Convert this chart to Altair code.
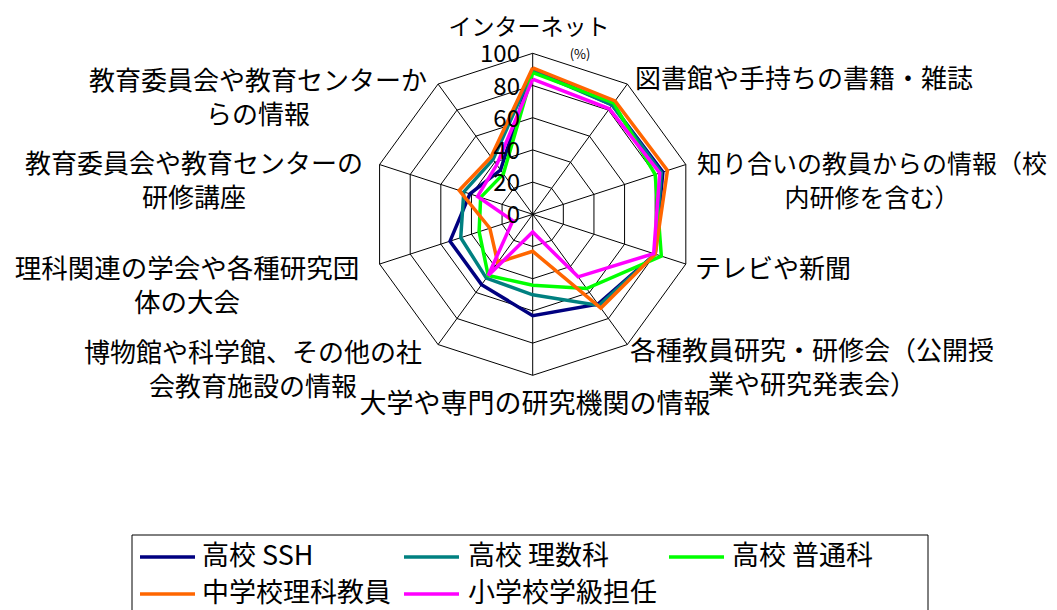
import altair as alt
import pandas as pd
import numpy as np

# ---------------- data ----------------
categories = [
    "インターネット",
    "図書館や手持ちの書籍・雑誌",
    "知り合いの教員からの情報（校内研修を含む）",
    "テレビや新聞",
    "各種教員研究・研修会（公開授業や研究発表会）",
    "大学や専門の研究機関の情報",
    "博物館や科学館、その他の社会教育施設の情報",
    "理科関連の学会や各種研究団体の大会",
    "教育委員会や教育センターの研修講座",
    "教育委員会や教育センターからの情報",
]
# wrapped label text as shown in the picture
label_texts = [
    "インターネット",
    "図書館や手持ちの書籍・雑誌",
    "知り合いの教員からの情報（校\n内研修を含む）",
    "テレビや新聞",
    "各種教員研究・研修会（公開授\n業や研究発表会）",
    "大学や専門の研究機関の情報",
    "博物館や科学館、その他の社\n会教育施設の情報",
    "理科関連の学会や各種研究団\n体の大会",
    "教育委員会や教育センターの\n研修講座",
    "教育委員会や教育センターか\nらの情報",
]
series = ["高校 SSH", "高校 理数科", "高校 普通科", "中学校理科教員", "小学校学級担任"]
colors = ["#000080", "#008080", "#00FF00", "#FF6600", "#FF00FF"]

ssh      = [90, 84, 85, 80, 69, 63, 54, 54, 41, 34]
risuka   = [89, 84, 84, 80, 70, 50, 49, 47, 45, 42]
futsuka  = [88, 85.5, 80, 84, 57, 44, 47, 35, 34, 31]
chugaku  = [91, 87, 88, 80, 72, 23, 37, 28, 48, 44]
shogaku  = [84, 81, 83, 79, 48, 11, 47, 13, 36, 38]
values = [ssh, risuka, futsuka, chugaku, shogaku]

ticks = [0, 20, 40, 60, 80, 100]

# ---------------- layout ----------------
W, H = 1041, 602
CX, CY = 524.7, 206.3   # centre of radar in chart pixels
K = 1.61                # pixels per percent
FONT = "Noto Sans CJK JP"
N = len(categories)

xs = alt.Scale(domain=[-CX / K, (W - CX) / K], nice=False, zero=False)
ys = alt.Scale(domain=[(CY - H) / K, CY / K], nice=False, zero=False)


def polar(v, i):
    a = np.deg2rad(360.0 / N * i)
    return v * np.sin(a), v * np.cos(a)


# series polygons
rows = []
for s, vals in zip(series, values):
    for j in range(N + 1):
        i = j % N
        x, y = polar(vals[i], i)
        rows.append(dict(series=s, order=j, x=x, y=y))
df = pd.DataFrame(rows)

# grid rings
grows = []
for t in ticks[1:]:
    for j in range(N + 1):
        x, y = polar(t, j % N)
        grows.append(dict(ring=t, order=j, x=x, y=y))
gdf = pd.DataFrame(grows)

# spokes
srows = []
for i in range(N):
    x, y = polar(100, i)
    srows.append(dict(x=0.0, y=0.0, x2=x, y2=y))
sdf = pd.DataFrame(srows)

X = lambda f: alt.X(f, scale=xs, axis=None)
Y = lambda f: alt.Y(f, scale=ys, axis=None)

rings = alt.Chart(gdf).mark_line(color="black", strokeWidth=1).encode(
    x=X("x:Q"), y=Y("y:Q"), detail="ring:N", order="order:Q"
)
spokes = alt.Chart(sdf).mark_rule(color="black", strokeWidth=1).encode(
    x=X("x:Q"), y=Y("y:Q"), x2="x2:Q", y2="y2:Q"
)
lines = alt.Chart(df).mark_line(strokeWidth=3.5).encode(
    x=X("x:Q"), y=Y("y:Q"),
    color=alt.Color("series:N", scale=alt.Scale(domain=series, range=colors), legend=None),
    order="order:Q",
)

tdf = pd.DataFrame({"t": ticks, "lab": [str(t) for t in ticks]})
tick_labels = alt.Chart(tdf).mark_text(
    align="right", baseline="middle", dy=2, fontSize=24, font=FONT, color="black"
).encode(x=alt.value(512), y=Y("t:Q"), text="lab:N")

pct = alt.Chart(pd.DataFrame({"t": ["(%)"]})).mark_text(
    align="center", baseline="middle", fontSize=13, font=FONT, color="black"
).encode(x=alt.value(572), y=alt.value(47), text="t:N")

# category label placement (chart pixels), alignment and font size
label_pos = [
    (521, 20, "center", 23),
    (627, 72, "left", 26),
    (864, 156.5, "center", 25),
    (687, 262, "left", 26),
    (804, 343.5, "center", 26),
    (527, 397, "center", 27),
    (245, 345.5, "center", 26),
    (179, 262, "center", 26.5),
    (186, 156.5, "center", 26),
    (250, 73.5, "center", 26),
]
label_layers = []
for txt, (px, py, al, fs) in zip(label_texts, label_pos):
    label_layers.append(
        alt.Chart(pd.DataFrame({"t": [txt]})).mark_text(
            align=al, baseline="middle", fontSize=fs, font=FONT, color="black",
            lineBreak="\n", lineHeight=34,
        ).encode(x=alt.value(px), y=alt.value(py), text="t:N")
    )

# legend (box + entries)
legend_box = alt.Chart(pd.DataFrame({"a": [0]})).mark_rect(
    fillOpacity=0, stroke="black", strokeWidth=1
).encode(x=alt.value(124), x2=alt.value(920), y=alt.value(527), y2=alt.value(660))

col_x = [132, 396, 661]
text_x = [194, 460, 724]
row_y = [549, 586]
legend_layers = []
for i, (s, c) in enumerate(zip(series, colors)):
    col, row = i % 3, i // 3
    legend_layers.append(
        alt.Chart(pd.DataFrame({"s": [s]})).mark_rule(color=c, strokeWidth=3.5).encode(
            x=alt.value(col_x[col]), x2=alt.value(col_x[col] + 55),
            y=alt.value(row_y[row]), y2=alt.value(row_y[row]),
        )
    )
    legend_layers.append(
        alt.Chart(pd.DataFrame({"s": [s]})).mark_text(
            align="left", baseline="middle", fontSize=27, font=FONT, color="black"
        ).encode(x=alt.value(text_x[col]), y=alt.value(row_y[row]), text="s:N")
    )

chart = alt.layer(
    rings, spokes, lines, tick_labels, pct, *label_layers, legend_box, *legend_layers
).properties(
    width=W, height=H, autosize=alt.AutoSizeParams(type="none"), padding=0,
    background="white",
).configure_view(strokeWidth=0, stroke="transparent")

chart.save("out.html", embed_options={"renderer": "svg", "actions": False})
